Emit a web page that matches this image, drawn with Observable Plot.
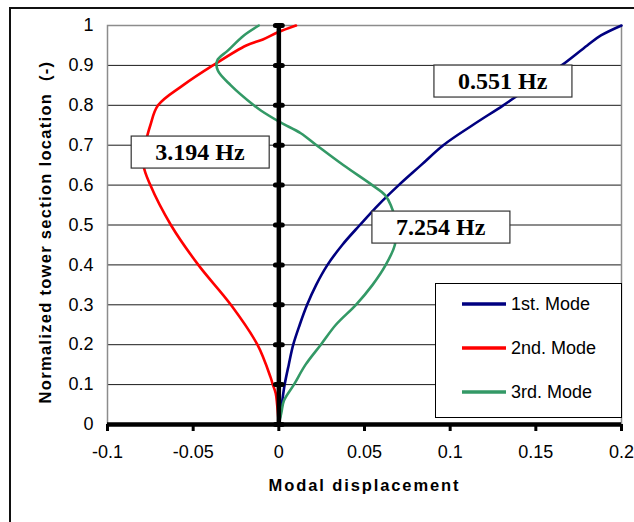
<!DOCTYPE html>
<html><head><meta charset="utf-8">
<script src="https://cdn.jsdelivr.net/npm/d3@7"></script>
<script src="https://cdn.jsdelivr.net/npm/@observablehq/plot@0.6"></script>
<style>
body{margin:0;background:#fff;}
#wrap{position:relative;width:634px;height:522px;overflow:hidden;background:#fff;}
#border{position:absolute;left:9px;top:7px;width:700px;height:600px;border:2px solid #111;box-sizing:border-box;pointer-events:none;}
#wrap svg{position:absolute;left:0;top:0;}
</style></head>
<body><div id="wrap"><div id="border"></div></div>
<script>
const modes = ["1st. Mode", "2nd. Mode", "3rd. Mode"];
const colors = ["#000080", "#ff0000", "#339966"];

const mode1Y = [0, 0.05, 0.1, 0.15, 0.2, 0.25, 0.3, 0.35, 0.4, 0.45, 0.5, 0.55, 0.6, 0.65, 0.7, 0.75, 0.8, 0.85, 0.9, 0.95, 0.975, 1.0];
const mode1X = [0, 0.0017, 0.0034, 0.0058, 0.0084, 0.0122, 0.0165, 0.0218, 0.0284, 0.037, 0.0473, 0.058, 0.070, 0.083, 0.096, 0.113, 0.131, 0.148, 0.165, 0.18, 0.188, 0.2];

const mode2Y = [0, 0.05, 0.078, 0.1, 0.118, 0.2, 0.3, 0.4, 0.5, 0.6, 0.65, 0.7, 0.75, 0.8, 0.85, 0.9, 0.95, 0.965, 0.983, 1.0];
const mode2X = [0, -0.001, -0.0018, -0.0035, -0.0048, -0.0125, -0.028, -0.047, -0.063, -0.075, -0.079, -0.078, -0.075, -0.0705, -0.056, -0.0385, -0.019, -0.0093, -0.0006, 0.01];

const mode3Y = [0, 0.03, 0.06, 0.1, 0.15, 0.2, 0.25, 0.3, 0.35, 0.4, 0.45, 0.5, 0.55, 0.575, 0.6, 0.649, 0.7, 0.73, 0.757, 0.787, 0.8, 0.85, 0.887, 0.912, 0.937, 0.975, 1.0];
const mode3X = [0, 0.0015, 0.003, 0.0088, 0.0156, 0.0245, 0.0333, 0.045, 0.0547, 0.0624, 0.0677, 0.0685, 0.0653, 0.062, 0.0545, 0.038, 0.022, 0.0128, 0.001, -0.0105, -0.0146, -0.028, -0.0356, -0.036, -0.0298, -0.0204, -0.0117];

const freqLabels = ["0.551 Hz", "3.194 Hz", "7.254 Hz"];
const freqX = [0.1307, -0.046, 0.0945];
const freqY = [0.86, 0.682, 0.494];

const xTicks = [-0.1, -0.05, 0, 0.05, 0.1, 0.15, 0.2];
const yTicks = [0, 0.1, 0.2, 0.3, 0.4, 0.5, 0.6, 0.7, 0.8, 0.9, 1];
const xTitle = "Modal displacement";
const yTitle = "Normalized tower section location\u00a0 (-)";

const allX = [mode1X, mode2X, mode3X];
const allY = [mode1Y, mode2Y, mode3Y];
const lines = [];
modes.forEach((m, i) => allX[i].forEach((x, j) => lines.push({mode: m, x, y: allY[i][j]})));
const labels = freqLabels.map((t, i) => ({t, x: freqX[i], y: freqY[i]}));

const chart = Plot.plot({
  width: 634, height: 522,
  marginLeft: 107, marginRight: 13, marginTop: 25, marginBottom: 98,
  style: {fontFamily: "'Liberation Sans', Arial, sans-serif", fontSize: "18px", background: "transparent", color: "#000"},
  x: {domain: [-0.1, 0.2]},
  y: {domain: [0, 1]},
  color: {domain: modes, range: colors},
  marks: [
    Plot.gridY(yTicks, {stroke: "#000", strokeOpacity: 0.9, strokeWidth: 1}),
    Plot.frame({stroke: "#8c8c8c", strokeWidth: 1.5}),
    Plot.line(lines, {x: "x", y: "y", z: "mode", stroke: "mode", strokeWidth: 2.6, curve: "catmull-rom"}),
    Plot.ruleX([0], {stroke: "#000", strokeWidth: 4.5}),
    Plot.link(yTicks, {x1: -0.002, x2: 0.002, y1: d => d, y2: d => d, stroke: "#000", strokeWidth: 5, strokeLinecap: "round"}),
    Plot.ruleY([0], {stroke: "#000", strokeWidth: 4.5}),
    Plot.axisX(xTicks, {tickSize: 7, strokeWidth: 3, tickPadding: 14, tickFormat: d => String(d), label: null, fontSize: 18}),
    Plot.axisY(yTicks, {tickSize: 0, tickPadding: 14, tickFormat: d => String(d), label: null, fontSize: 18}),
    Plot.text([xTitle], {frameAnchor: "bottom", dy: 66, textAnchor: "middle", fontWeight: "bold", fontSize: 16.5, fill: "#000"}),
    Plot.text([yTitle], {frameAnchor: "left", dx: -62, dy: 7, textAnchor: "middle", rotate: -90, fontWeight: "bold", fontSize: 16.5, fill: "#000"}),
    Plot.text(labels, {x: "x", y: "y", text: "t", fontFamily: "'Liberation Serif', 'Times New Roman', serif", fontWeight: "bold", fontSize: 24, fill: "#000"})
  ]
});
document.getElementById("wrap").appendChild(chart);

const svg = d3.select(chart);
// title letter spacing
svg.selectAll("text").filter(function() { return this.textContent === xTitle; }).style("letter-spacing", "1.9px");
svg.selectAll("text").filter(function() { return this.textContent === yTitle; }).style("letter-spacing", "1.3px");

// label boxes behind frequency labels
svg.selectAll("text").filter(function() { return freqLabels.includes(this.textContent); }).each(function() {
  const b = this.getBBox();
  const cx = b.x + b.width / 2, cy = b.y + b.height / 2;
  const t = this.getAttribute("transform");
  const r = document.createElementNS("http://www.w3.org/2000/svg", "rect");
  r.setAttribute("x", cx - 69); r.setAttribute("y", cy - 16);
  r.setAttribute("width", 138); r.setAttribute("height", 32);
  r.setAttribute("fill", "#fff"); r.setAttribute("stroke", "#333"); r.setAttribute("stroke-width", 1.2);
  if (t) r.setAttribute("transform", t);
  this.parentNode.insertBefore(r, this);
});

// legend
const lg = svg.append("g").attr("text-anchor", "start");
lg.append("rect").attr("x", 435.5).attr("y", 283.5).attr("width", 186).attr("height", 134)
  .attr("fill", "#fff").attr("stroke", "#000").attr("stroke-width", 1);
modes.forEach((m, i) => {
  const yy = 304 + i * 44;
  lg.append("line").attr("x1", 462).attr("x2", 506).attr("y1", yy).attr("y2", yy)
    .attr("stroke", colors[i]).attr("stroke-width", 3.5);
  lg.append("text").attr("x", 511).attr("y", yy).attr("dy", "0.35em")
    .attr("font-size", 18).attr("fill", "#000").text(m);
});
</script>
</body></html>
